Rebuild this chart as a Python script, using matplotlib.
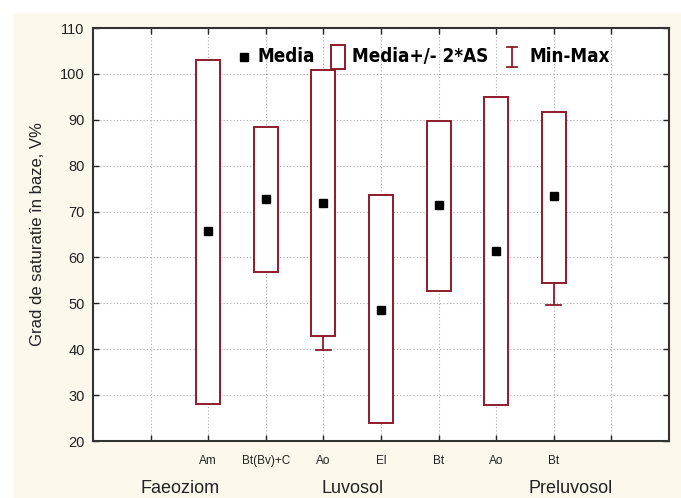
import numpy as np
import matplotlib
matplotlib.use("Agg")
import matplotlib.pyplot as plt
from matplotlib.patches import Rectangle
from matplotlib.transforms import blended_transform_factory
from matplotlib import font_manager as fm

# ---- data ----
categories = ["Am", "Bt(Bv)+C", "Ao", "El", "Bt", "Ao", "Bt"]
positions = [2, 3, 4, 5, 6, 7, 8]
means = [65.7, 72.8, 71.8, 48.5, 71.5, 61.5, 73.4]
box_low = [28.0, 56.8, 42.9, 23.9, 52.6, 27.8, 54.4]
box_high = [103.0, 88.5, 100.8, 73.5, 89.8, 95.0, 91.8]
min_vals = [np.nan, np.nan, 39.8, np.nan, np.nan, np.nan, 49.6]
groups = ["Faeoziom", "Luvosol", "Preluvosol"]
group_pos = [1.52, 4.5, 8.3]

EDGE = "#8e1b2c"
BG = "#fcf8ec"
font = ["Liberation Sans", "DejaVu Sans"]

# condensed bold font for the legend, if available
leg_fp = None
for f in fm.fontManager.ttflist:
    if "Condensed" in f.fname and "Bold" in f.fname and "Oblique" not in f.fname \
            and "DejaVuSans" in f.fname and "Mono" not in f.fname:
        leg_fp = fm.FontProperties(fname=f.fname, size=13.5)
        break
if leg_fp is None:
    leg_fp = fm.FontProperties(family="DejaVu Sans", weight="bold", size=12)

fig = plt.figure(figsize=(6.81, 4.98), dpi=100)
fig.patch.set_facecolor("white")
fig.patches.append(Rectangle((13 / 681, 0), 1 - 13 / 681, 1 - 13 / 498,
                             transform=fig.transFigure, facecolor=BG,
                             edgecolor="none", zorder=-10))
ax = fig.add_axes([93 / 681, 1 - 441 / 498, 576 / 681, 413 / 498])
ax.set_facecolor("white")

ax.set_xlim(0, 10)
ax.set_ylim(20, 110)

w = 0.42
for p, lo, hi, m, mn in zip(positions, box_low, box_high, means, min_vals):
    ax.add_patch(Rectangle((p - w / 2, lo), w, hi - lo, facecolor="white",
                           edgecolor=EDGE, lw=1.4, zorder=3))
    if not np.isnan(mn) and mn < lo:
        ax.plot([p, p], [mn, lo], color=EDGE, lw=1.3, zorder=2)
        ax.plot([p - 0.13, p + 0.13], [mn, mn], color=EDGE, lw=1.3, zorder=2)
ax.plot(positions, means, ls="none", marker="s", ms=6, color="black", zorder=4)

# ticks / grid
ax.set_xticks(range(1, 10))
ax.set_xticklabels([""] + categories + [""], fontsize=8.5, family=font)
ax.set_yticks(range(20, 111, 10))
ax.set_yticklabels([str(v) for v in range(20, 111, 10)], fontsize=10.5, family=font)
ax.tick_params(direction="in", length=4, width=1, top=True, right=True,
               colors="#222222")
ax.tick_params(axis="x", pad=10)
ax.tick_params(axis="y", pad=6)
ax.grid(True, ls=(0, (1, 2)), color="#aaaaaa", lw=0.8, zorder=0)
for s in ax.spines.values():
    s.set_linewidth(1.5)
    s.set_color("#333333")

ax.set_ylabel("Grad de saturatie în baze, V%", fontsize=12, family=font,
              color="#222222", labelpad=11)

# group labels
tr = blended_transform_factory(ax.transData, ax.transAxes)
for g, gp in zip(groups, group_pos):
    ax.text(gp, -0.114, g, transform=tr, ha="center", va="center",
            fontsize=13, family=font, color="#222222", clip_on=False)

# legend (manual)
ly = (441 - 57) / 413
ax.plot([0.262], [ly], marker="s", ms=6, color="black", transform=ax.transAxes,
        clip_on=False, zorder=6)
ax.text(0.286, ly, "Media", transform=ax.transAxes, va="center", ha="left",
        fontproperties=leg_fp, zorder=6)
ax.add_patch(Rectangle((0.413, 0.901), 0.025, 0.058, transform=ax.transAxes,
                       facecolor="white", edgecolor=EDGE, lw=1.4, zorder=6))
ax.text(0.449, ly, "Media+/- 2*AS", transform=ax.transAxes, va="center",
        ha="left", fontproperties=leg_fp, zorder=6)
ix = 0.727
ax.plot([ix, ix], [0.906, 0.954], color=EDGE, lw=1.3, transform=ax.transAxes, zorder=6)
ax.plot([ix - 0.009, ix + 0.009], [0.906, 0.906], color=EDGE, lw=1.3,
        transform=ax.transAxes, zorder=6)
ax.plot([ix - 0.009, ix + 0.009], [0.954, 0.954], color=EDGE, lw=1.3,
        transform=ax.transAxes, zorder=6)
ax.text(0.757, ly, "Min-Max", transform=ax.transAxes, va="center", ha="left",
        fontproperties=leg_fp, zorder=6)

fig.savefig("out.png", dpi=100, facecolor=fig.get_facecolor())
